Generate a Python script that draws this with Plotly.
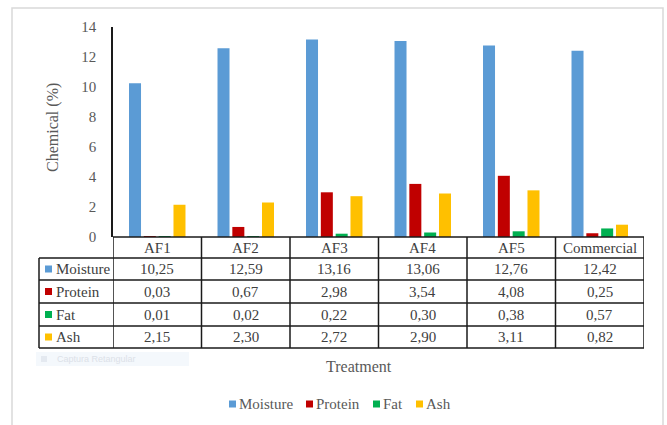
import plotly.graph_objects as go

# Proximate composition of the feeds (%)
treatments = ["AF1", "AF2", "AF3", "AF4", "AF5", "Commercial"]
moisture = [10.25, 12.59, 13.16, 13.06, 12.76, 12.42]
protein = [0.03, 0.67, 2.98, 3.54, 4.08, 0.25]
fat = [0.01, 0.02, 0.22, 0.30, 0.38, 0.57]
ash = [2.15, 2.30, 2.72, 2.90, 3.11, 0.82]
y_ticks = [0, 2, 4, 6, 8, 10, 12, 14]

series = [
    ("Moisture", moisture, "#5B9BD5"),
    ("Protein", protein, "#C00000"),
    ("Fat", fat, "#00B050"),
    ("Ash", ash, "#FFC000"),
]

W, H = 667, 425
L, R, T, B = 113, 644, 27, 237
SERIF = "Liberation Serif, Times New Roman, serif"
TXT = "#595959"
TBL = "#404040"


def px(x):
    return (x - L) / (R - L)


def py(y):
    return (B - y) / (B - T)


def fmt(v):
    return f"{v:.2f}".replace(".", ",")


def label(x, y, text, xref="paper", xanchor="center", size=15, color=TBL,
          family=SERIF, **kw):
    return dict(x=x, y=y, xref=xref, yref="paper", text=text, showarrow=False,
                xanchor=xanchor, yanchor="middle",
                font=dict(family=family, size=size, color=color), **kw)


fig = go.Figure()
for name, vals, color in series:
    fig.add_trace(go.Bar(x=treatments, y=vals, name=name, marker_color=color,
                         marker_line_width=0, showlegend=False))

shapes = []
annotations = []

# outer chart frame
shapes.append(dict(type="rect", xref="paper", yref="paper",
                   x0=px(12), x1=px(663), y0=py(440), y1=py(8),
                   line=dict(color="#D9D9D9", width=1.5), layer="below"))

# data table grid
row_edges = [237, 258, 280, 303, 326, 348]
line_style = dict(color="#1a1a1a", width=1.5)
shapes.append(dict(type="line", xref="paper", yref="paper",
                   x0=0, x1=1, y0=py(237), y1=py(237), line=line_style))
for yy in row_edges[1:]:
    shapes.append(dict(type="line", xref="paper", yref="paper",
                       x0=px(39), x1=1, y0=py(yy), y1=py(yy), line=line_style))
for k in range(len(treatments) + 1):
    shapes.append(dict(type="line", xref="x", yref="paper",
                       x0=k - 0.5, x1=k - 0.5, y0=py(237), y1=py(348), line=line_style))
shapes.append(dict(type="line", xref="paper", yref="paper",
                   x0=px(39), x1=px(39), y0=py(258), y1=py(348), line=line_style))

# header row with treatment names
for i, t in enumerate(treatments):
    annotations.append(label(i, py(247.5), t, xref="x"))

# series rows
for r, (name, vals, color) in enumerate(series):
    yc = (row_edges[r + 1] + row_edges[r + 2]) / 2
    shapes.append(dict(type="rect", xref="paper", yref="paper",
                       x0=px(45), x1=px(52), y0=py(yc + 3.5), y1=py(yc - 3.5),
                       fillcolor=color, line=dict(width=0)))
    annotations.append(label(px(54), py(yc), name, xanchor="left"))
    for i, v in enumerate(vals):
        annotations.append(label(i, py(yc), fmt(v), xref="x"))

# axis titles
annotations.append(label(px(53), py(128), "Chemical (%)", size=16, color=TXT,
                         textangle=-90))
annotations.append(label(px(359), py(366), "Treatment", size=16, color=TXT))

# faint screen-capture tooltip
shapes.append(dict(type="rect", xref="paper", yref="paper",
                   x0=px(36), x1=px(189), y0=py(366), y1=py(352),
                   fillcolor="#F4F8FC", line=dict(width=0)))
shapes.append(dict(type="rect", xref="paper", yref="paper",
                   x0=px(41), x1=px(47), y0=py(362), y1=py(356),
                   fillcolor="#E4E9F0", line=dict(width=0)))
annotations.append(label(px(55), py(359), "Captura Retangular", xanchor="left",
                         size=9, color="#DCE1E8", family="Liberation Sans, Arial"))

# legend
legend_pos = [229, 306, 373, 416]
for (name, vals, color), x0 in zip(series, legend_pos):
    shapes.append(dict(type="rect", xref="paper", yref="paper",
                       x0=px(x0), x1=px(x0 + 7), y0=py(407.5), y1=py(400.5),
                       fillcolor=color, line=dict(width=0)))
    annotations.append(label(px(x0 + 8), py(404), name, xanchor="left", color=TXT))

fig.update_layout(
    width=W, height=H,
    margin=dict(l=L, r=W - R, t=T, b=H - B),
    paper_bgcolor="white", plot_bgcolor="white",
    barmode="group", bargap=0.33, bargroupgap=0.19,
    xaxis=dict(showticklabels=False, showgrid=False, zeroline=False,
               showline=False, range=[-0.5, len(treatments) - 0.5]),
    yaxis=dict(range=[0, 14], tickvals=y_ticks, showgrid=False, zeroline=False,
               showline=True, linecolor="#1a1a1a", linewidth=1.5, ticks="",
               ticklabelstandoff=12,
               tickfont=dict(family=SERIF, size=15, color=TXT)),
    shapes=shapes, annotations=annotations,
)

fig.write_html("out.html")
